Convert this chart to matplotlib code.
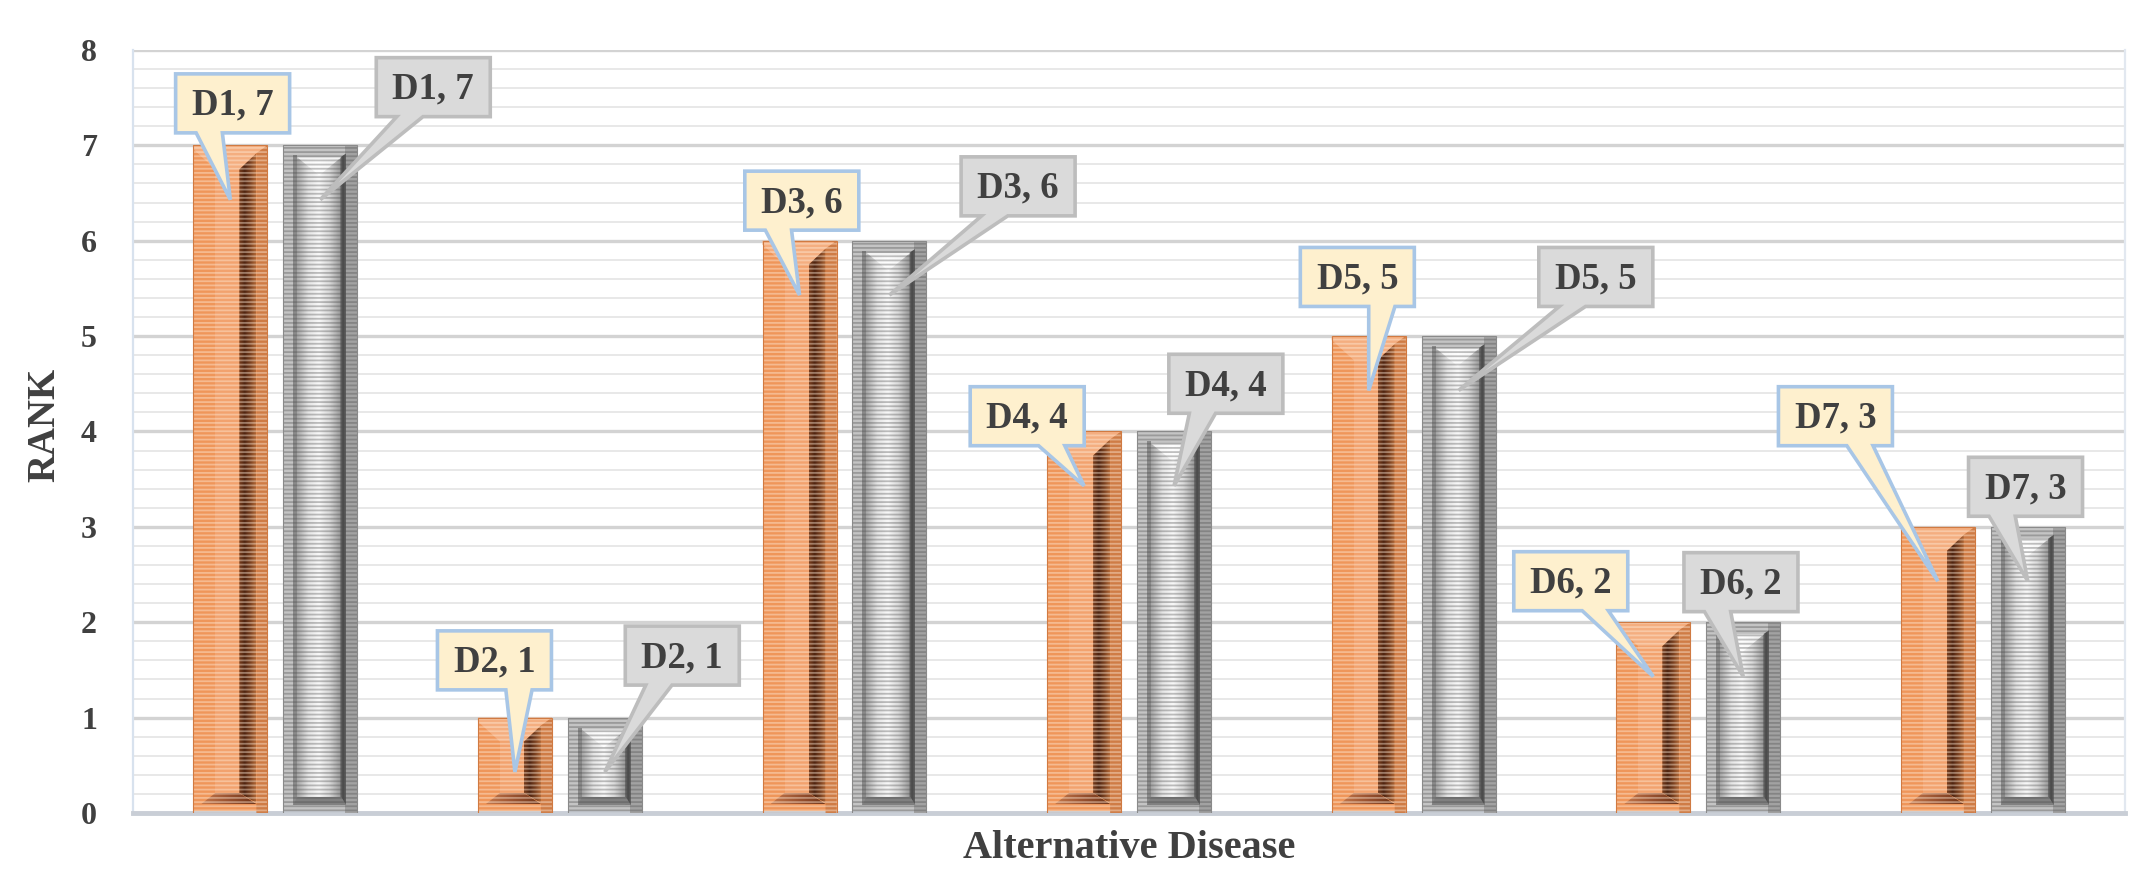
import numpy as np
import matplotlib
matplotlib.use('Agg')
import matplotlib.pyplot as plt
from matplotlib.patches import Polygon, Rectangle
from matplotlib.colors import LinearSegmentedColormap
from matplotlib.ticker import MultipleLocator

# ---------------- data ----------------
categories = ['D1', 'D2', 'D3', 'D4', 'D5', 'D6', 'D7']
series_orange = [7, 1, 6, 4, 5, 2, 3]
series_gray = [7, 1, 6, 4, 5, 2, 3]
y_ticks = [0, 1, 2, 3, 4, 5, 6, 7, 8]
x_label = 'Alternative Disease'
y_label = 'RANK'

# ---------------- layout (callout box offsets from bar centre / bar top) ----------------
off_orange = [(0.008, 0.44), (-0.072, 0.60), (0.008, 0.42), (-0.20, 0.16),
              (-0.04, 0.62), (-0.29, 0.43), (-0.36, 1.16)]
off_gray = [(0.397, 0.61), (0.272, 0.65), (0.452, 0.57), (0.182, 0.50),
            (0.482, 0.62), (-0.008, 0.42), (-0.008, 0.42)]
tip_drop = 0.57

plt.rcParams['font.family'] = ['Liberation Serif', 'DejaVu Serif']
plt.rcParams['hatch.linewidth'] = 1.3

W, H, DPI = 2149, 875, 100
fig = plt.figure(figsize=(W / DPI, H / DPI), dpi=DPI)
ax = fig.add_axes([0.0619, 0.0709, 0.9270, 0.872])

n = len(categories)
x = np.arange(n)
bw = 0.26
boff = 0.158
ax.set_xlim(-0.5, n - 0.5)
ax.set_ylim(0, 8)

# data units per pixel
pxx = n / (0.9270 * W)
pxy = 8 / (0.872 * H)

bars_o = ax.bar(x - boff, series_orange, bw, color='#EF965A', lw=0, zorder=2)
bars_g = ax.bar(x + boff, series_gray, bw, color='#C4C4C4', lw=0, zorder=2)


def grad_fill(x0, x1, y0, y1, colors, clip=None, z=3):
    cmap = LinearSegmentedColormap.from_list('g', colors)
    img = np.linspace(0, 1, 64).reshape(1, -1)
    im = ax.imshow(img, extent=[x0, x1, y0, y1], cmap=cmap, aspect='auto',
                   origin='lower', zorder=z, interpolation='bilinear')
    if clip is not None:
        clip.set_transform(ax.transData)
        im.set_clip_path(clip)
    return im


def decorate_orange(r):
    x0 = r.get_x()
    h = r.get_height()
    P = lambda u, v: (x0 + u * pxx, v * pxy)
    T = lambda u, v: (x0 + u * pxx, h - v * pxy)
    # inner face
    ax.add_patch(Polygon([P(22, 20), P(46, 20), T(46, 24), T(22, 24)], closed=True,
                         fc='#F2A26E', lw=0, zorder=3))
    # top bevel light
    ax.add_patch(Polygon([T(0, 0), T(74, 0), T(63, 8), T(46, 24), T(22, 24), T(0, 4)],
                         closed=True, fc='#F4AE80', lw=0, zorder=3))
    # right frame
    ax.add_patch(Polygon([P(63, 0), P(74, 0), T(74, 0), T(63, 8)], closed=True,
                         fc='#CF7C46', lw=0, zorder=3))
    # dark band (gradient)
    band = Polygon([P(46, 20), P(63, 10), T(63, 8), T(46, 24)], closed=True)
    grad_fill(x0 + 46 * pxx, x0 + 63 * pxx, 0, h,
              ['#7A3E1E', '#4E2410', '#7A4020', '#B06634'], clip=band)
    # bottom shadow
    bot = Polygon([P(8, 9), P(63, 9), P(46, 20), P(22, 20)], closed=True)
    grad_fill(x0 + 8 * pxx, x0 + 63 * pxx, 0, 20 * pxy,
              ['#C4774A', '#9A5230', '#6E3418'], clip=bot)
    # stripes
    ax.add_patch(Rectangle((x0, 0), r.get_width(), h, fc='none', ec=(1, 0.93, 0.86, 0.42),
                           hatch='----', lw=0, zorder=4))
    ax.add_patch(Rectangle((x0, 0), r.get_width(), h, fc='none', ec='#D07A42',
                           lw=0.8, zorder=4))


def decorate_gray(r):
    x0 = r.get_x()
    h = r.get_height()
    P = lambda u, v: (x0 + u * pxx, v * pxy)
    T = lambda u, v: (x0 + u * pxx, h - v * pxy)
    # right frame
    ax.add_patch(Polygon([P(62, 0), P(74, 0), T(74, 0), T(62, 0)], closed=True,
                         fc='#A2A2A2', lw=0, zorder=3))
    # inner face gradient
    face = Polygon([P(14, 16), P(58, 16), T(58, 14), T(14, 14)], closed=True)
    grad_fill(x0 + 14 * pxx, x0 + 58 * pxx, 0, h,
              ['#A8A8A8', '#E4E4E4', '#F8F8F8', '#D8D8D8', '#9A9A9A'], clip=face)
    # dark inner lines
    ax.add_patch(Polygon([P(10, 8), P(14, 8), T(14, 10), T(10, 10)], closed=True,
                         fc='#8A8A8A', lw=0, zorder=3))
    band = Polygon([P(57, 8), P(63, 8), T(63, 8), T(57, 12)], closed=True)
    grad_fill(x0 + 57 * pxx, x0 + 63 * pxx, 0, h, ['#757575', '#484848', '#626262'],
              clip=band)
    # bottom shadow
    ax.add_patch(Polygon([P(10, 8), P(63, 8), P(58, 16), P(14, 16)], closed=True,
                         fc='#808080', lw=0, zorder=3))
    # top highlight V
    ax.add_patch(Polygon([T(14, 12), T(58, 12), T(36, 30)], closed=True,
                         fc=(1, 1, 1, 0.8), lw=0, zorder=3))
    # stripes
    ax.add_patch(Rectangle((x0, 0), r.get_width(), h, fc='none', ec=(0.3, 0.3, 0.3, 0.35),
                           hatch='----', lw=0, zorder=4))
    ax.add_patch(Rectangle((x0, 0), r.get_width(), h, fc='none', ec='#8A8A8A',
                           lw=0.8, zorder=4))


for r in bars_o:
    decorate_orange(r)
for r in bars_g:
    decorate_gray(r)

BOX_W = 114 * pxx
BOX_H = 59 * pxy


def callout(tipx, tipy, cx, cy, text, fc, ec):
    x0, x1 = cx - BOX_W / 2, cx + BOX_W / 2
    y0, y1 = cy - BOX_H / 2, cy + BOX_H / 2
    fr = (0.6, 0.83) if tipx > cx + 0.02 else (0.18, 0.41)
    b1 = x0 + fr[0] * BOX_W
    b2 = x0 + fr[1] * BOX_W
    verts = [(x0, y1), (x1, y1), (x1, y0), (b2, y0), (tipx, tipy), (b1, y0), (x0, y0)]
    ax.add_patch(Polygon(verts, closed=True, fc=fc, ec=ec, lw=2.6,
                         joinstyle='miter', zorder=6))
    ax.text(cx, cy - 0.02, text, ha='center', va='center', fontsize=26.5, fontweight='bold',
            color='#404040', zorder=7)


for i, r in enumerate(bars_o):
    bx = r.get_x() + r.get_width() / 2
    top = r.get_height()
    dx, dy = off_orange[i]
    callout(bx, top - tip_drop, bx + dx, top + dy,
            f'{categories[i]}, {series_orange[i]}', '#FEF0CE', '#A8C6E6')
for i, r in enumerate(bars_g):
    bx = r.get_x() + r.get_width() / 2
    top = r.get_height()
    dx, dy = off_gray[i]
    callout(bx, top - tip_drop, bx + dx, top + dy,
            f'{categories[i]}, {series_gray[i]}', '#DADADA', '#BDBDBD')

# grid
ax.set_axisbelow(True)
ax.set_yticks(y_ticks)
ax.yaxis.set_minor_locator(MultipleLocator(0.2))
ax.grid(which='major', axis='y', color='#D3D3D3', lw=2.4, zorder=0)
ax.grid(which='minor', axis='y', color='#E8E8E8', lw=1.4, zorder=0)
ax.set_xticks([])
ax.tick_params(axis='y', which='both', length=0)
ax.tick_params(axis='y', which='major', pad=26, labelsize=23, labelcolor='#404040')
for t in ax.get_yticklabels():
    t.set_fontweight('bold')

ax.spines['top'].set_visible(False)
ax.spines['left'].set_color('#D8E2EE')
ax.spines['left'].set_linewidth(1.6)
ax.spines['right'].set_color('#E2E8F0')
ax.spines['right'].set_linewidth(1.6)
ax.spines['bottom'].set_color('#C9CED6')
ax.spines['bottom'].set_linewidth(3.5)

ax.set_xlabel(x_label, fontsize=29, fontweight='bold', color='#404040', labelpad=12)
ax.set_ylabel(y_label, fontsize=28, fontweight='bold', color='#404040')
ax.yaxis.set_label_coords(-0.035, 0.508)

ax.set_xlim(-0.5, n - 0.5)
ax.set_ylim(0, 8)

fig.savefig('out.png', dpi=DPI, facecolor='white')
